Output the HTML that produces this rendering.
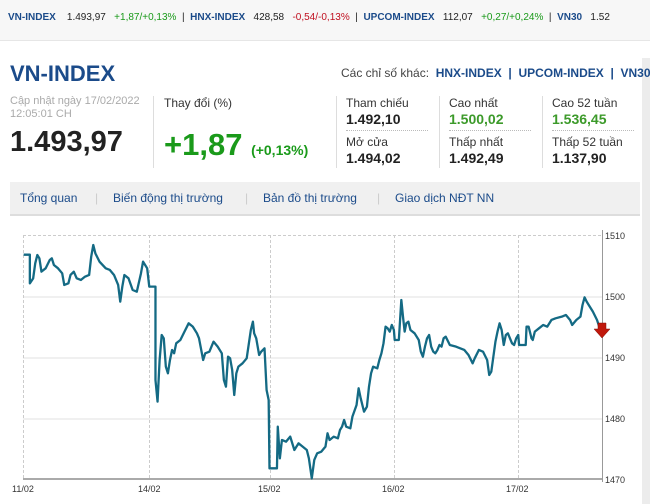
<!DOCTYPE html>
<html><head><meta charset="utf-8"><style>
body{margin:0;width:650px;height:504px;background:#fff;font-family:"Liberation Sans",Arial,sans-serif;position:relative;overflow:hidden}
.a{position:absolute;white-space:nowrap}
.g{color:#1a9a1a}.r{color:#e00}.dr{color:#c01020}.b{color:#1b4b8a}
.lbl{font-size:12px;color:#333}
.val{font-size:14px;font-weight:bold;color:#222}
</style></head><body>
<div class="a" style="left:0;top:0;width:650px;height:40px;background:#f7f7f7;border-bottom:1px solid #e6e6e6"></div>
<div class="a" style="left:8px;top:12px;font-size:10px;color:#222">
<b class="b">VN-INDEX</b>&nbsp;&nbsp;&nbsp; 1.493,97&nbsp;&nbsp;&nbsp;<span class="g">+1,87/+0,13%</span>&nbsp; | &nbsp;<b class="b">HNX-INDEX</b>&nbsp;&nbsp; 428,58&nbsp;&nbsp;&nbsp;<span class="dr">-0,54/-0,13%</span>&nbsp; | &nbsp;<b class="b">UPCOM-INDEX</b>&nbsp;&nbsp; 112,07&nbsp;&nbsp;&nbsp;<span class="g">+0,27/+0,24%</span>&nbsp; | &nbsp;<b class="b">VN30</b>&nbsp;&nbsp; 1.52</div>
<div class="a" style="left:642px;top:58px;width:8px;height:446px;background:#ececec"></div>
<div class="a b" style="left:10px;top:61px;font-size:22px;font-weight:bold">VN-INDEX</div>
<div class="a" style="left:341px;top:66px;font-size:12px;color:#444">Các chỉ số khác: &nbsp;<b class="b">HNX-INDEX</b> &nbsp;<b style="color:#1b4b8a">|</b>&nbsp; <b class="b">UPCOM-INDEX</b> &nbsp;<b class="b">|</b>&nbsp; <b class="b">VN30</b></div>
<div class="a" style="left:10px;top:95px;font-size:11px;color:#aaa;line-height:13px">Cập nhật ngày 17/02/2022<br>12:05:01 CH</div>
<div class="a" style="left:10px;top:126px;font-size:29px;font-weight:bold;color:#222">1.493,97</div>
<div class="a" style="left:153px;top:96px;width:1px;height:72px;background:#ddd"></div>
<div class="a lbl" style="left:164px;top:96px">Thay đổi (%)</div>
<div class="a g" style="left:164px;top:127px;font-size:31px;font-weight:bold">+1,87 <span style="font-size:14px;">(+0,13%)</span></div>
<div class="a" style="left:336px;top:96px;width:1px;height:72px;background:#ddd"></div>
<div class="a" style="left:439px;top:96px;width:1px;height:72px;background:#ddd"></div>
<div class="a" style="left:542px;top:96px;width:1px;height:72px;background:#ddd"></div>
<div class="a" style="left:346px;top:130px;width:82px;border-top:1px dotted #bbb"></div>
<div class="a" style="left:449px;top:130px;width:82px;border-top:1px dotted #bbb"></div>
<div class="a" style="left:552px;top:130px;width:82px;border-top:1px dotted #bbb"></div>
<div class="a lbl" style="left:346px;top:96px">Tham chiếu</div><div class="a val" style="left:346px;top:111px">1.492,10</div>
<div class="a lbl" style="left:346px;top:135px">Mở cửa</div><div class="a val" style="left:346px;top:150px">1.494,02</div>
<div class="a lbl" style="left:449px;top:96px">Cao nhất</div><div class="a val" style="left:449px;top:111px;color:#3c9a2a">1.500,02</div>
<div class="a lbl" style="left:449px;top:135px">Thấp nhất</div><div class="a val r" style="left:449px;top:150px">1.492,49</div>
<div class="a lbl" style="left:552px;top:96px">Cao 52 tuần</div><div class="a val" style="left:552px;top:111px;color:#3c9a2a">1.536,45</div>
<div class="a lbl" style="left:552px;top:135px">Thấp 52 tuần</div><div class="a val r" style="left:552px;top:150px">1.137,90</div>
<div class="a" style="left:10px;top:182px;width:630px;height:32px;background:#f0f0f0;border-bottom:2px solid #ddd"></div>
<div class="a b" style="left:20px;top:191px;font-size:12px">Tổng quan</div>
<div class="a b" style="left:113px;top:191px;font-size:12px">Biến động thị trường</div>
<div class="a b" style="left:263px;top:191px;font-size:12px">Bản đồ thị trường</div>
<div class="a b" style="left:395px;top:191px;font-size:12px">Giao dịch NĐT NN</div>
<div class="a" style="left:95px;top:191px;color:#ccc;font-size:12px">|</div>
<div class="a" style="left:245px;top:191px;color:#ccc;font-size:12px">|</div>
<div class="a" style="left:377px;top:191px;color:#ccc;font-size:12px">|</div>
<svg class="a" style="left:0;top:220px" width="650" height="284">
<g stroke="#e2e2e2" stroke-width="1"><line x1="23" y1="77" x2="602" y2="77"/><line x1="23" y1="138" x2="602" y2="138"/><line x1="23" y1="199" x2="602" y2="199"/></g>
<g stroke="#ccc" stroke-dasharray="3,2"><line x1="23.5" y1="15" x2="23.5" y2="258"/><line x1="149.5" y1="15" x2="149.5" y2="258"/><line x1="270.5" y1="15" x2="270.5" y2="258"/><line x1="394.5" y1="15" x2="394.5" y2="258"/><line x1="518.5" y1="15" x2="518.5" y2="258"/><line x1="23" y1="15.5" x2="602" y2="15.5"/></g>
<line x1="23" y1="259" x2="602" y2="259" stroke="#aaa" stroke-width="2"/>
<line x1="602.5" y1="10" x2="602.5" y2="262" stroke="#999"/>
<g font-size="9" fill="#333"><text x="605" y="19">1510</text><text x="605" y="80">1500</text><text x="605" y="141">1490</text><text x="605" y="202">1480</text><text x="605" y="263">1470</text>
<text x="12" y="272">11/02</text><text x="138" y="272">14/02</text><text x="258" y="272">15/02</text><text x="382" y="272">16/02</text><text x="506" y="272">17/02</text></g>
<g transform="scale(0.4146,0.3333)"><polyline fill="none" stroke="#146a84" stroke-width="2.3" vector-effect="non-scaling-stroke" stroke-linejoin="round" points="57,104 72,104 72,190 80,175 85,130 90,105 95,115 100,155 110,145 120,120 125,115 130,135 140,145 150,160 155,195 165,190 170,165 178,155 185,175 195,180 205,170 215,165 220,110 225,75 230,100 240,125 255,145 265,150 275,165 285,195 290,245 295,200 300,165 310,175 320,210 330,215 340,160 345,125 355,145 360,200 375,200 375,480 380,545 385,420 390,345 395,355 400,440 405,460 410,420 415,390 420,400 425,370 435,360 445,335 455,310 465,320 475,340 480,355 490,420 495,400 505,395 510,380 515,365 525,380 535,400 540,480 545,500 550,410 555,415 560,450 565,525 570,460 575,440 585,430 595,415 605,330 610,305 613,340 618,355 625,405 630,395 638,385 643,510 648,540 650,745 668,745 670,620 675,715 680,660 690,665 700,650 710,690 720,670 730,680 740,690 745,715 752,775 758,720 765,700 775,695 785,680 790,640 795,660 805,650 815,655 820,630 825,620 830,600 835,620 845,625 850,590 860,555 865,505 870,535 878,575 885,560 890,500 895,460 900,440 910,445 915,420 920,400 925,370 930,320 935,325 940,335 945,315 950,330 952,360 962,360 965,300 968,240 972,290 976,335 980,310 985,305 990,330 1000,340 1010,360 1015,395 1020,410 1025,380 1030,355 1035,345 1040,380 1045,395 1050,400 1055,390 1060,375 1065,380 1070,355 1075,350 1085,375 1100,380 1110,385 1120,390 1130,405 1140,430 1145,415 1155,390 1165,395 1175,420 1180,465 1185,455 1190,410 1195,365 1200,335 1205,310 1210,330 1215,375 1220,345 1225,340 1235,370 1240,375 1245,355 1250,345 1252,375 1268,375 1270,320 1275,320 1282,355 1285,360 1290,335 1300,325 1310,315 1320,320 1330,300 1340,295 1355,290 1365,285 1375,300 1380,315 1390,300 1400,290 1405,255 1410,232 1415,245 1420,255 1430,275 1440,300 1448,330"/></g>
<polygon points="598,103 606,103 606,109 610,109 602,118 594,109 598,109" fill="#c0180c" stroke="#801008" stroke-width="0.5"/>
</svg>
</body></html>
